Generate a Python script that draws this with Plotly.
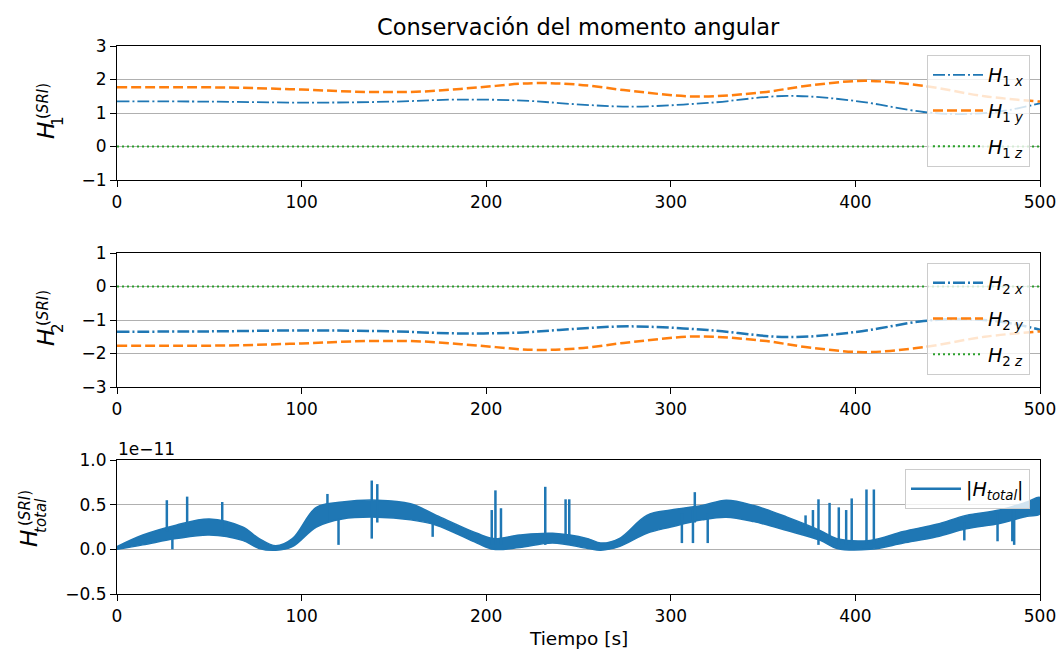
import plotly.graph_objects as go

W, H = 1059, 653

# ---------------- data ----------------
t_x = [0, 50, 105, 150, 184, 220, 249, 278, 320, 363, 400, 437, 458, 480, 500]
h1_x = [1.35, 1.34, 1.31, 1.34, 1.40, 1.37, 1.26, 1.19, 1.30, 1.51, 1.36, 1.03, 0.97, 1.06, 1.29]
t_y = [0, 60, 100, 135, 165, 195, 225, 249, 280, 314, 350, 375, 405, 437, 470, 500]
h1_y = [1.77, 1.76, 1.70, 1.63, 1.64, 1.76, 1.89, 1.85, 1.65, 1.49, 1.62, 1.82, 1.96, 1.81, 1.50, 1.34]
t_z = [0, 500]
h1_z = [0.0, 0.0]

h2_x = [-v for v in h1_x]
h2_y = [-v for v in h1_y]
h2_z = [0.0, 0.0]

# |H_total| in units of 1e-11: noisy band envelope
t_band = [0, 14, 32, 50, 68, 77, 86, 95, 108, 122, 141, 159, 173, 195, 204, 218, 236, 255, 262,
          272, 287, 300, 317, 330, 345, 363, 381, 390, 408, 426, 444, 460, 478, 493, 500]
band_hi = [0.03, 0.16, 0.27, 0.34, 0.25, 0.12, 0.04, 0.12, 0.47, 0.53, 0.55, 0.51, 0.38, 0.18, 0.12,
           0.16, 0.18, 0.12, 0.07, 0.12, 0.38, 0.44, 0.49, 0.55, 0.49, 0.36, 0.21, 0.12, 0.10, 0.20,
           0.28, 0.38, 0.44, 0.53, 0.58]
band_lo = [0.0, 0.05, 0.12, 0.16, 0.10, 0.01, -0.01, 0.03, 0.25, 0.34, 0.36, 0.33, 0.27, 0.07, 0.0,
           0.02, 0.07, 0.01, -0.01, 0.03, 0.18, 0.25, 0.33, 0.36, 0.31, 0.21, 0.10, 0.01, 0.0, 0.07,
           0.14, 0.23, 0.29, 0.37, 0.40]
# isolated spikes: time, low, high
spike_t = [27, 30, 38, 57, 114, 120, 138, 141, 171, 203, 205, 208, 232, 243, 245, 306, 312, 313,
           320, 373, 377, 380, 386, 391, 395, 398, 406, 410, 459, 477, 485, 486]
spike_lo = [0.2, 0.0, 0.15, 0.2, 0.3, 0.05, 0.12, 0.3, 0.14, 0.05, 0.05, 0.05, 0.05, 0.05, 0.05,
            0.07, 0.07, 0.3, 0.07, 0.2, 0.15, 0.05, 0.05, 0.05, 0.05, 0.05, 0.05, 0.05, 0.10, 0.09,
            0.09, 0.05]
spike_hi = [0.55, 0.2, 0.59, 0.53, 0.62, 0.35, 0.77, 0.73, 0.3, 0.44, 0.66, 0.46, 0.70, 0.56, 0.56,
            0.4, 0.45, 0.64, 0.4, 0.38, 0.44, 0.56, 0.52, 0.47, 0.44, 0.57, 0.67, 0.67, 0.3, 0.4,
            0.45, 0.45]

x_ticks = [0, 100, 200, 300, 400, 500]
y1_ticks = [-1, 0, 1, 2, 3]
y2_ticks = [-3, -2, -1, 0, 1]
y3_ticks = [-0.5, 0.0, 0.5, 1.0]

BLUE, ORANGE, GREEN = "#1f77b4", "#ff7f0e", "#2ca02c"
FONT = "DejaVu Sans"

# plot-area geometry (pixels)
ML, MR, MT, MB = 100, 19, 40, 40
PW, PH = W - ML - MR, H - MT - MB
def px(x):
    return (x - ML) / PW
def py(y):
    return (H - MB - y) / PH

fig = go.Figure()

DASHDOT = "12px,3px,2px,3px"
DASH = "10px,4px"
DOT = "2px,3px"

def line_trace(x, y, color, width, dash, name, xa, ya, leg, grp):
    return go.Scatter(x=x, y=y, mode="lines", line=dict(color=color, width=width, dash=dash, shape="spline"),
                      name=name, xaxis=xa, yaxis=ya, legend=leg, legendgroup=grp)

# panel 1
fig.add_trace(line_trace(t_x, h1_x, BLUE, 1.8, DASHDOT, "<i>H</i><sub>1 <i>x</i></sub>", "x", "y", "legend", "a"))
fig.add_trace(line_trace(t_y, h1_y, ORANGE, 2.5, DASH, "<i>H</i><sub>1 <i>y</i></sub>", "x", "y", "legend", "b"))
fig.add_trace(line_trace(t_z, h1_z, GREEN, 2.2, DOT, "<i>H</i><sub>1 <i>z</i></sub>", "x", "y", "legend", "c"))
# panel 2
fig.add_trace(line_trace(t_x, h2_x, BLUE, 2.5, DASHDOT, "<i>H</i><sub>2 <i>x</i></sub>", "x2", "y2", "legend2", "d"))
fig.add_trace(line_trace(t_y, h2_y, ORANGE, 2.5, DASH, "<i>H</i><sub>2 <i>y</i></sub>", "x2", "y2", "legend2", "e"))
fig.add_trace(line_trace(t_z, h2_z, GREEN, 2.2, DOT, "<i>H</i><sub>2 <i>z</i></sub>", "x2", "y2", "legend2", "f"))
# panel 3
fig.add_trace(go.Scatter(x=t_band + t_band[::-1], y=band_hi + band_lo[::-1], mode="lines", fill="toself",
                         fillcolor=BLUE, line=dict(color=BLUE, width=1.5, shape="spline"),
                         showlegend=False, xaxis="x3", yaxis="y3", hoverinfo="skip"))
sx, sy = [], []
for t, lo, hi in zip(spike_t, spike_lo, spike_hi):
    sx += [t, t, None]
    sy += [lo, hi, None]
fig.add_trace(go.Scatter(x=sx, y=sy, mode="lines", line=dict(color=BLUE, width=2.5),
                         name="|<i>H</i><sub><i>total</i></sub>|", xaxis="x3", yaxis="y3", legend="legend3"))

def ydom(top, bot):
    return [py(bot), py(top)]

axis_common = dict(showline=True, mirror=True, linecolor="black", linewidth=1.2, ticks="outside",
                   ticklen=6, tickwidth=1.2, tickcolor="black", tickfont=dict(family=FONT, size=17, color="black"),
                   zeroline=False, automargin=False)
xcommon = dict(axis_common, range=[0, 500], tickvals=x_ticks, showgrid=False)
ycommon = dict(axis_common, showgrid=True, gridcolor="#b0b0b0", gridwidth=1)

legend_common = dict(bgcolor="rgba(255,255,255,0.8)", bordercolor="#cccccc", borderwidth=1,
                     font=dict(family=FONT, size=19, color="black"), xanchor="right", yanchor="top",
                     tracegroupgap=8, traceorder="grouped", itemwidth=50)

fig.update_layout(
    width=W, height=H, margin=dict(l=ML, r=MR, t=MT, b=MB, autoexpand=False),
    paper_bgcolor="white", plot_bgcolor="white",
    font=dict(family=FONT, size=17, color="black"),
    xaxis=dict(xcommon, domain=[px(117), px(1040)], anchor="y"),
    yaxis=dict(ycommon, domain=ydom(46, 180), range=[-1, 3], tickvals=y1_ticks,
               ticktext=["\u22121", "0", "1", "2", "3"], anchor="x"),
    xaxis2=dict(xcommon, domain=[px(117), px(1040)], anchor="y2"),
    yaxis2=dict(ycommon, domain=ydom(253, 387), range=[-3, 1], tickvals=y2_ticks,
                ticktext=["\u22123", "\u22122", "\u22121", "0", "1"], anchor="x2"),
    xaxis3=dict(xcommon, domain=[px(117), px(1040)], anchor="y3"),
    yaxis3=dict(ycommon, domain=ydom(460, 594), range=[-0.5, 1.0], tickvals=y3_ticks,
                ticktext=["\u22120.5", "0.0", "0.5", "1.0"], anchor="x3"),
    legend=dict(legend_common, x=px(1030), y=py(55)),
    legend2=dict(legend_common, x=px(1030), y=py(263)),
    legend3=dict(legend_common, x=px(1030), y=py(469)),
)

ann = []
def txt(x, y, text, size, angle=0, xa="center", ya="middle"):
    ann.append(dict(x=px(x), y=py(y), xref="paper", yref="paper", text=text, showarrow=False,
                    font=dict(family=FONT, size=size, color="black"), textangle=angle,
                    xanchor=xa, yanchor=ya))

txt(578.5, 27, "Conservación del momento angular", 22.5)
txt(578.5, 638, "Tiempo [s]", 18.5)
txt(116, 449, "1e\u221211", 17, xa="left")
# y-axis labels (stacked super/subscripts)
for cy, sub in [(0, "1"), (207, "2")]:
    txt(46, 131 + cy, "<i>H</i>", 23, angle=-90)
    txt(43, 101 + cy, "(<i>SRI</i>)", 15, angle=-90)
    txt(58, 121 + cy, sub, 15, angle=-90)
txt(29, 539, "<i>H</i>", 23, angle=-90)
txt(25, 508, "(<i>SRI</i>)", 15, angle=-90)
txt(41, 516, "<i>total</i>", 15, angle=-90)
fig.update_layout(annotations=ann)

fig.write_html("out.html")
